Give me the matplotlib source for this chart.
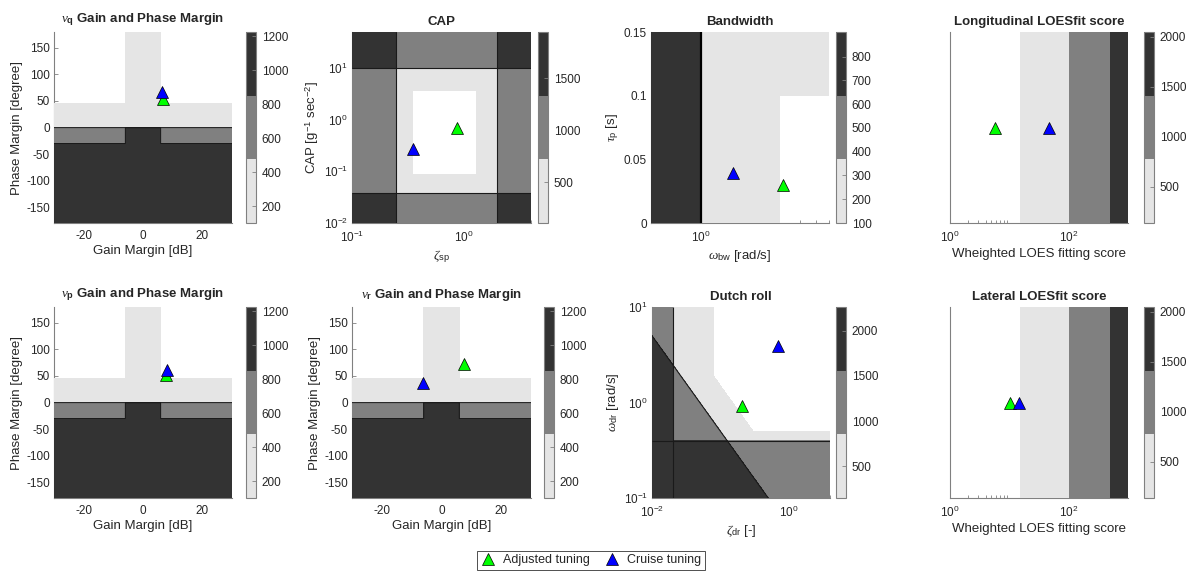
import numpy as np
import matplotlib
matplotlib.use("Agg")
import matplotlib.pyplot as plt
from matplotlib.ticker import FormatStrFormatter, NullFormatter

plt.rcParams.update({
    "font.family": ["Liberation Sans", "DejaVu Sans"],
    "mathtext.fontset": "custom",
    "mathtext.rm": "Liberation Sans",
    "mathtext.it": "Liberation Serif:italic",
    "mathtext.bf": "Liberation Sans:bold",
    "axes.unicode_minus": False,
    "text.color": "#262626",
    "axes.labelcolor": "#262626",
    "xtick.color": "#262626",
    "ytick.color": "#262626",
})

# ---------------------------------------------------------------- data
TUNINGS = ["Adjusted tuning", "Cruise tuning"]

# Loop stability margins: gain margin [dB], phase margin [deg]
gm_q = [6.7, 6.4]
pm_q = [54.0, 66.0]
gm_p = [7.8, 8.0]
pm_p = [52.0, 62.0]
gm_r = [7.7, -6.1]
pm_r = [73.0, 36.0]

# Short-period CAP
cap_zeta = [0.87, 0.355]
cap_value = [0.68, 0.27]

# Bandwidth criterion
bw_omega = [3.14, 1.57]
bw_tau = [0.030, 0.039]

# Dutch roll
dr_zeta = [0.205, 0.69]
dr_omega = [0.92, 3.9]

# LOES fitting scores
loes_long = [5.7, 47.0]
loes_lat = [10.1, 14.7]

# Criteria boundaries
margin_gm_band = 6.0
margin_pm_limits = [-30.0, 0.0, 45.0]
cap_zeta_l1 = [0.35, 1.30]
cap_l1 = [0.085, 3.6]
cap_zeta_l2 = [0.25, 2.0]
cap_l2 = [0.038, 10.0]
bw_omega_l2 = 1.0
bw_omega_l1 = 3.0
bw_tau_l1 = 0.1
dr_l1 = [0.08, 0.15, 0.5]   # zeta, zeta*omega, omega
dr_l2 = [0.02, 0.05, 0.4]
loes_limits = [15.0, 100.0, 500.0]

# Penalty score bands
margin_levels = [100, 475, 850, 1225]
cap_levels = [110, 722, 1333, 1945]
bw_levels = [100, 368, 636, 904]
dr_levels = [145, 852, 1559, 2266]
loes_levels = [135, 773, 1410, 2047]

margin_ticks = [200, 400, 600, 800, 1000, 1200]
cap_ticks = [500, 1000, 1500]
bw_ticks = [100, 200, 300, 400, 500, 600, 700, 800]
dr_ticks = [500, 1000, 1500, 2000]
loes_ticks = [500, 1000, 1500, 2000]

# ---------------------------------------------------------------- style
BAND_COLORS = ["#e5e5e5", "#808080", "#333333"]
MARKER_COLORS = ["#00ff00", "#0000ff"]
LINE_COLOR = "#1a1a1a"
W_PX, H_PX = 1190, 573
TICK_FS = 8.5
LABEL_FS = 9.5

fig = plt.figure(figsize=(W_PX / 100, H_PX / 100), dpi=100)


def px_axes(x0, y0, x1, y1):
    return fig.add_axes([x0 / W_PX, 1 - y1 / H_PX, (x1 - x0) / W_PX, (y1 - y0) / H_PX])


def style(ax):
    ax.set_axisbelow(True)
    for s in ("top", "right"):
        ax.spines[s].set_visible(False)
    for s in ("left", "bottom"):
        ax.spines[s].set_zorder(0.5)
        ax.spines[s].set_color("#808080")
        ax.spines[s].set_linewidth(0.8)
    ax.tick_params(which="both", direction="in", labelsize=TICK_FS,
                   top=False, right=False, color="#808080", width=0.6)
    ax.tick_params(which="major", length=3)
    ax.tick_params(which="minor", length=2)
    ax.tick_params(axis="x", pad=5)
    ax.tick_params(axis="y", pad=3)


def score_from_band(band, levels):
    lv = np.asarray(levels, float)
    mids = 0.5 * (lv[:-1] + lv[1:])
    return np.where(band > 0, mids[np.clip(band, 1, 3) - 1], 0.0)


def filled(ax, cax, X, Y, band, levels, ticks):
    Z = score_from_band(band, levels)
    cf = ax.contourf(X, Y, Z, levels=levels, colors=BAND_COLORS)
    cb = fig.colorbar(cf, cax=cax, ticks=ticks)
    cb.outline.set_edgecolor("#808080")
    cb.outline.set_linewidth(0.8)
    cax.tick_params(direction="in", length=3, labelsize=TICK_FS,
                    color="#808080", width=0.6, pad=4)
    cax.minorticks_off()
    return Z


def markers(ax, xs, ys):
    handles = []
    for x, y, c in zip(xs, ys, MARKER_COLORS):
        h, = ax.plot([x], [y], "^", ms=8, mfc=c, mec="k", mew=0.5, zorder=4)
        handles.append(h)
    return handles


def log_axis(axis):
    axis.set_minor_formatter(NullFormatter())


def title(ax, text):
    ax.set_title(text, fontsize=LABEL_FS, fontweight="bold", pad=3, va="bottom")


# ---------------------------------------------------------------- margin plots
def margin_plot(box, cbox, gm, pm, name):
    ax = px_axes(*box)
    cax = px_axes(*cbox)
    style(ax)
    g = np.linspace(-30, 30, 601)
    p = np.linspace(-180, 180, 721)
    G, P = np.meshgrid(g, p)
    inner = np.abs(G) < margin_gm_band
    band = np.zeros(G.shape, int)
    band[(P < margin_pm_limits[2]) | inner] = 1
    band[P < margin_pm_limits[1]] = 2
    band[(P < margin_pm_limits[1]) & inner] = 3
    band[P < margin_pm_limits[0]] = 3
    Z = filled(ax, cax, G, P, band, margin_levels, margin_ticks)
    ax.contour(G, P, Z, levels=margin_levels[1:3], colors=LINE_COLOR, linewidths=0.7)
    h = markers(ax, gm, pm)
    ax.set_xlim(-30, 30)
    ax.set_ylim(-180, 180)
    ax.set_xticks([-20, 0, 20])
    ax.set_yticks([-150, -100, -50, 0, 50, 100, 150])
    ax.set_xlabel("Gain Margin [dB]", fontsize=LABEL_FS, labelpad=2)
    ax.set_ylabel("Phase Margin [degree]", fontsize=LABEL_FS, labelpad=2)
    title(ax, r"$\nu_{\mathbf{%s}}$ Gain and Phase Margin" % name)
    return h


handles = margin_plot((54, 32, 232, 223), (246, 32, 256, 223), gm_q, pm_q, "q")
margin_plot((54, 307, 232, 498), (246, 307, 256, 498), gm_p, pm_p, "p")
margin_plot((352, 307, 531, 498), (544, 307, 554, 498), gm_r, pm_r, "r")

# ---------------------------------------------------------------- CAP
ax = px_axes(352, 32, 531, 223)
cax = px_axes(538, 32, 548, 223)
style(ax)
zx = np.logspace(np.log10(0.1), np.log10(4), 700)
cy = np.logspace(np.log10(0.01), np.log10(50), 700)
ZX, CY = np.meshgrid(zx, cy)
ok1 = ((ZX >= cap_zeta_l1[0]) & (ZX <= cap_zeta_l1[1])
       & (CY >= cap_l1[0]) & (CY <= cap_l1[1]))
bad_z = (ZX < cap_zeta_l2[0]) | (ZX > cap_zeta_l2[1])
bad_c = (CY < cap_l2[0]) | (CY > cap_l2[1])
band = np.where(ok1, 0, 1 + bad_z.astype(int) + bad_c.astype(int))
filled(ax, cax, ZX, CY, band, cap_levels, cap_ticks)
ax.set_xscale("log")
ax.set_yscale("log")
ax.contour(ZX, CY, ZX, levels=cap_zeta_l2, colors=LINE_COLOR, linewidths=0.8)
ax.contour(ZX, CY, CY, levels=cap_l2, colors=LINE_COLOR, linewidths=0.8)
markers(ax, cap_zeta, cap_value)
ax.set_xlim(0.1, 4)
ax.set_ylim(0.01, 50)
log_axis(ax.xaxis)
log_axis(ax.yaxis)
ax.set_xlabel(r"$\zeta_{\mathrm{sp}}$", fontsize=LABEL_FS, labelpad=2)
ax.set_ylabel(r"CAP [g$^{-1}$ sec$^{-2}$]", fontsize=LABEL_FS, labelpad=2)
title(ax, "CAP")

# ---------------------------------------------------------------- Bandwidth
ax = px_axes(651, 32, 829, 223)
cax = px_axes(836, 32, 846, 223)
style(ax)
wx = np.logspace(np.log10(0.5), np.log10(6), 700)
ty = np.linspace(0, 0.15, 400)
WX, TY = np.meshgrid(wx, ty)
band = np.where(WX < bw_omega_l2, 3,
                np.where((WX >= bw_omega_l1) & (TY <= bw_tau_l1), 0, 1))
filled(ax, cax, WX, TY, band, bw_levels, bw_ticks)
ax.set_xscale("log")
ax.contour(WX, TY, WX, levels=[bw_omega_l2], colors="k", linewidths=1.6)
markers(ax, bw_omega, bw_tau)
ax.set_xlim(0.5, 6)
ax.set_ylim(0, 0.15)
ax.set_yticks([0, 0.05, 0.1, 0.15])
ax.yaxis.set_major_formatter(FormatStrFormatter("%g"))
log_axis(ax.xaxis)
ax.set_xlabel(r"$\omega_{\mathrm{bw}}$ [rad/s]", fontsize=LABEL_FS, labelpad=2)
ax.set_ylabel(r"$\tau_{\mathrm{p}}$ [s]", fontsize=LABEL_FS, labelpad=2)
title(ax, "Bandwidth")

# ---------------------------------------------------------------- Dutch roll
ax = px_axes(652, 307, 830, 498)
cax = px_axes(836, 307, 846, 498)
style(ax)
zx = np.logspace(np.log10(0.01), np.log10(4), 800)
wy = np.logspace(np.log10(0.1), np.log10(10), 800)
ZX, WY = np.meshgrid(zx, wy)
ZW = ZX * WY
ok1 = (ZX >= dr_l1[0]) & (ZW >= dr_l1[1]) & (WY >= dr_l1[2])
n2 = (ZX < dr_l2[0]).astype(int) + (ZW < dr_l2[1]).astype(int) + (WY < dr_l2[2]).astype(int)
band = np.where(ok1, 0, np.minimum(1 + n2, 3))
filled(ax, cax, ZX, WY, band, dr_levels, dr_ticks)
ax.set_xscale("log")
ax.set_yscale("log")
ax.contour(ZX, WY, ZX, levels=[dr_l2[0]], colors=LINE_COLOR, linewidths=0.8)
ax.contour(ZX, WY, WY, levels=[dr_l2[2]], colors=LINE_COLOR, linewidths=0.8)
ax.contour(ZX, WY, ZW, levels=[dr_l2[1]], colors=LINE_COLOR, linewidths=0.8)
markers(ax, dr_zeta, dr_omega)
ax.set_xlim(0.01, 4)
ax.set_ylim(0.1, 10)
ax.set_xticks([0.01, 1])
log_axis(ax.xaxis)
log_axis(ax.yaxis)
ax.set_xlabel(r"$\zeta_{\mathrm{dr}}$ [-]", fontsize=LABEL_FS, labelpad=2)
ax.set_ylabel(r"$\omega_{\mathrm{dr}}$ [rad/s]", fontsize=LABEL_FS, labelpad=2)
title(ax, "Dutch roll")


# ---------------------------------------------------------------- LOES scores
def loes_plot(box, cbox, scores, name):
    ax = px_axes(*box)
    cax = px_axes(*cbox)
    style(ax)
    sx = np.logspace(0, 3, 900)
    sy = np.linspace(0, 1, 3)
    SX, SY = np.meshgrid(sx, sy)
    band = np.digitize(SX, loes_limits)
    filled(ax, cax, SX, SY, band, loes_levels, loes_ticks)
    ax.set_xscale("log")
    markers(ax, scores, np.full(len(scores), 0.5))
    ax.set_xlim(1, 1000)
    ax.set_ylim(0, 1)
    ax.set_xticks([1, 100])
    ax.set_yticks([])
    log_axis(ax.xaxis)
    ax.set_xlabel("Wheighted LOES fitting score", fontsize=LABEL_FS, labelpad=2)
    title(ax, name)


loes_plot((950, 32, 1128, 223), (1144, 32, 1154, 223), loes_long, "Longitudinal LOESfit score")
loes_plot((950, 307, 1128, 498), (1144, 307, 1154, 498), loes_lat, "Lateral LOESfit score")

# ---------------------------------------------------------------- legend
leg = fig.legend(handles, TUNINGS, loc="center",
                 bbox_to_anchor=(591 / W_PX, 1 - 560.5 / H_PX),
                 ncol=2, frameon=True, fancybox=False, edgecolor="k",
                 fontsize=9, handlelength=1.2, handletextpad=0.6,
                 columnspacing=1.2, borderpad=0.3, borderaxespad=0)
leg.get_frame().set_linewidth(0.6)

fig.savefig("out.png", dpi=100, facecolor="white")
